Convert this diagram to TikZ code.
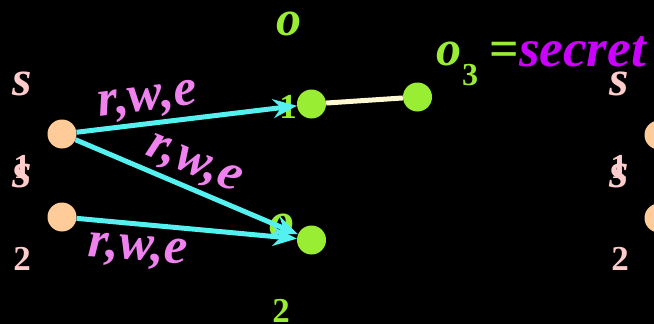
\documentclass[tikz,border=0pt]{standalone}
\usepackage{fontspec}
\setmainfont{Liberation Serif}
\usetikzlibrary{arrows.meta}
\definecolor{subj}{RGB}{255,204,153}
\definecolor{obj}{RGB}{153,238,51}
\definecolor{arr}{RGB}{85,240,240}
\definecolor{lbl}{RGB}{240,130,240}
\definecolor{sec}{RGB}{204,0,255}
\definecolor{slbl}{RGB}{255,204,204}
\definecolor{link}{RGB}{255,248,208}
\tikzset{
  subjnode/.style={circle, fill=subj, minimum size=29pt, inner sep=0pt},
  objnode/.style={circle, fill=obj, minimum size=29pt, inner sep=0pt},
  access/.style={draw=arr, line width=5pt, -{Stealth[length=24pt,width=19pt,inset=8pt,fill=arr]}},
  linkline/.style={draw=link, line width=5pt},
  rwe/.style={text=lbl, inner sep=0pt, font=\fontsize{52}{52}\selectfont\bfseries\itshape},
  slabel/.style={text=slbl, inner sep=0pt, anchor=base, font=\fontsize{50}{50}\selectfont\bfseries\itshape},
  sdigit/.style={text=slbl, inner sep=0pt, anchor=base, font=\fontsize{35}{35}\selectfont\bfseries},
  olabel/.style={text=obj, inner sep=0pt, anchor=base, font=\fontsize{50}{50}\selectfont\bfseries\itshape},
  odigit/.style={text=obj, inner sep=0pt, anchor=base, font=\fontsize{35}{35}\selectfont\bfseries},
}
\begin{document}
\begin{tikzpicture}[x=1pt,y=-1pt]
\fill[black] (0,0) rectangle (654,324);
\useasboundingbox (0,0) rectangle (654,324);
\clip (0,0) rectangle (654,324);
% subject labels, left
\node[slabel] (ls1) at (22,95) {s};
\node[sdigit] (ld1) at (22,178) {1};
\node[slabel] (ls2) at (22,187) {s};
\node[sdigit] (ld2) at (22,270) {2};
% subject labels, right
\node[slabel] (rs1) at (619,95) {s};
\node[sdigit] (rd1) at (619,178) {1};
\node[slabel] (rs2) at (619,187) {s};
\node[sdigit] (rd2) at (620,270) {2};
% object labels
\node[olabel] (lo1) at (289,35) {o};
\node[odigit] (ld1o) at (288,118) {1};
\node[olabel] (lo2) at (282,237) {o};
\node[odigit] (ld2o) at (281,322) {2};
% o3 = secret
\node[olabel] (lo3) at (449,65) {o};
\node[text=obj, inner sep=0pt, anchor=base, font=\fontsize{32}{32}\selectfont\bfseries] (ld3) at (470,85) {3};
\node[text=obj, inner sep=0pt, anchor=base, font=\fontsize{52}{52}\selectfont\bfseries] (eq) at (504,66) {=};
\node[text=sec, inner sep=0pt, anchor=base west, font=\fontsize{53}{53}\selectfont\bfseries\itshape] (secret) at (519,66) {secret};
% nodes
\node[subjnode] (s1) at (62,134) {};
\node[subjnode] (s2) at (62,217) {};
\node[subjnode] (s3) at (659,135) {};
\node[subjnode] (s4) at (659,218) {};
\node[objnode] (o1) at (311.5,104) {};
\node[objnode] (o3) at (417.5,97) {};
\node[objnode] (o2) at (311.5,240) {};
% connectors
\draw[linkline] (o1) -- (o3);
\draw[access] (s1) -- (o1);
\draw[access] (s1) -- (o2);
\draw[access] (s2) -- (o2);
% edge labels
\node[rwe, rotate=7] (e1) at (148,102) {r,w,e};
\node[rwe, rotate=-23] (e2) at (193,166) {r,w,e};
\node[rwe, rotate=-4] (e3) at (138,252) {r,w,e};
\end{tikzpicture}
\end{document}
